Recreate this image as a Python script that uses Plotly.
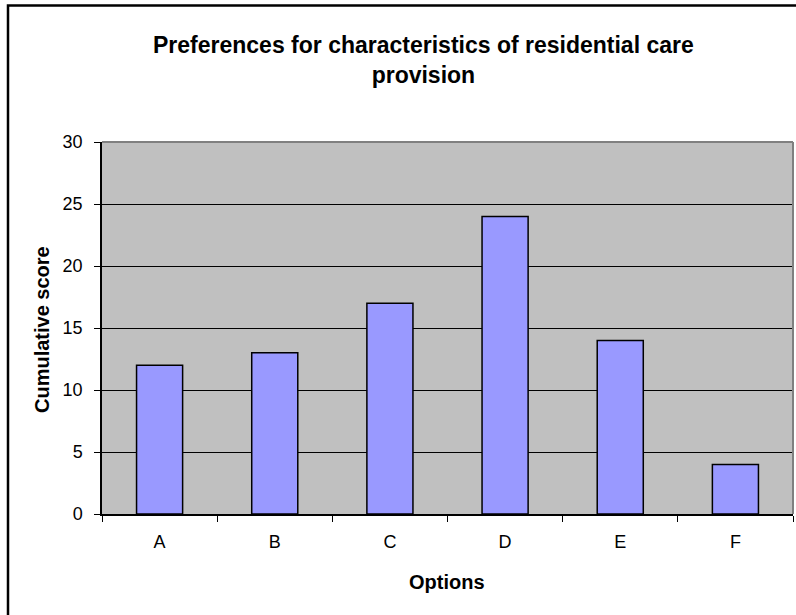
import plotly.graph_objects as go

# Chart data
options = ["A", "B", "C", "D", "E", "F"]
scores = [12, 13, 17, 24, 14, 4]
y_ticks = [0, 5, 10, 15, 20, 25, 30]

W, H = 796, 615
L, R, T, B = 102, 793, 142, 514  # plot-area edges in pixels


def px_x(x):
    return (x - L) / (R - L)


def px_y(y):
    return (B - y) / (B - T)


FONT = "Liberation Sans, Arial, sans-serif"

fig = go.Figure(
    go.Bar(
        x=options,
        y=scores,
        marker=dict(color="#9999FF", line=dict(color="#000000", width=1.5)),
        hoverinfo="x+y",
    )
)

fig.update_layout(
    width=W,
    height=H,
    margin=dict(l=L, r=W - R, t=T, b=H - B, pad=0),
    paper_bgcolor="#FFFFFF",
    plot_bgcolor="#C0C0C0",
    bargap=0.6,
    showlegend=False,
    font=dict(family=FONT, color="#000000", size=18),
)

fig.update_xaxes(
    type="category",
    tickson="boundaries",
    ticks="outside",
    ticklen=6,
    tickwidth=1,
    tickcolor="#000000",
    showline=True,
    linecolor="#000000",
    linewidth=1.5,
    showgrid=False,
    tickfont=dict(size=18),
    ticklabelstandoff=11,
)

fig.update_yaxes(
    range=[0, 30],
    tickvals=y_ticks,
    ticks="outside",
    ticklen=6,
    tickwidth=1,
    tickcolor="#000000",
    showline=True,
    linecolor="#000000",
    linewidth=1.5,
    showgrid=True,
    gridcolor="#000000",
    gridwidth=1,
    zeroline=False,
    tickfont=dict(size=18),
    ticklabelstandoff=8,
)

shapes = [
    # grey frame on top and right of the plot area
    dict(type="line", xref="paper", yref="paper", x0=0, x1=1, y0=1, y1=1,
         line=dict(color="#808080", width=2)),
    dict(type="line", xref="paper", yref="paper", x0=1, x1=1, y0=0, y1=1,
         line=dict(color="#808080", width=2)),
    # outer chart border
    dict(type="rect", xref="paper", yref="paper",
         x0=px_x(8), x1=px_x(W + 40), y0=px_y(H + 40), y1=px_y(5.5),
         line=dict(color="#000000", width=2.5), fillcolor="rgba(0,0,0,0)",
         layer="above"),
]
fig.update_layout(shapes=shapes)

annotations = [
    dict(text="<b>Preferences for characteristics of residential care<br>provision</b>",
         xref="paper", yref="paper", x=px_x(423), y=px_y(30),
         xanchor="center", yanchor="top", showarrow=False,
         font=dict(family=FONT, size=23, color="#000000")),
    dict(text="<b>Cumulative score</b>",
         xref="paper", yref="paper", x=px_x(42), y=px_y(330),
         xanchor="center", yanchor="middle", textangle=-90, showarrow=False,
         font=dict(family=FONT, size=20, color="#000000")),
    dict(text="<b>Options</b>",
         xref="paper", yref="paper", x=px_x(447), y=px_y(582),
         xanchor="center", yanchor="middle", showarrow=False,
         font=dict(family=FONT, size=20, color="#000000")),
]
fig.update_layout(annotations=annotations)

fig.write_html("out.html")
